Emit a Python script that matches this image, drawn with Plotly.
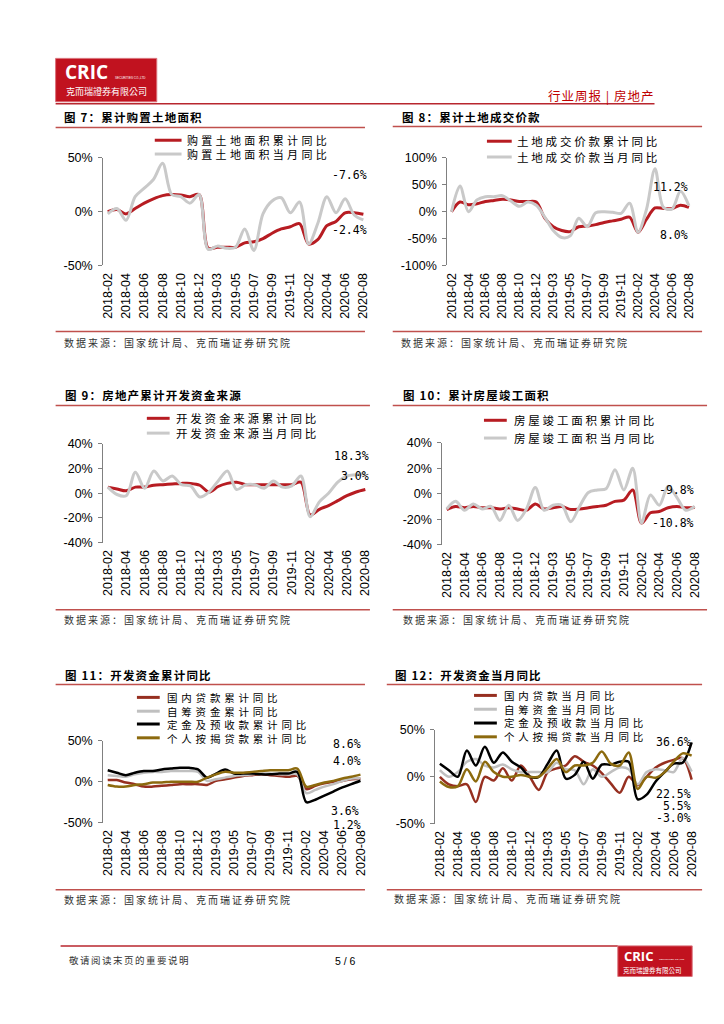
import plotly.graph_objects as go

# page is 724x1024; browser body keeps its default 8px margin, so the figure is 16px smaller
PAGE_W, PAGE_H = 724, 1024
OFF = 8
W, H = PAGE_W - 2 * OFF, PAGE_H - 2 * OFF

# ---------------- data ----------------
months = ['2018-02', '2018-03', '2018-04', '2018-05', '2018-06', '2018-07', '2018-08', '2018-09',
          '2018-10', '2018-11', '2018-12',
          '2019-02', '2019-03', '2019-04', '2019-05', '2019-06', '2019-07', '2019-08', '2019-09',
          '2019-10', '2019-11', '2019-12',
          '2020-02', '2020-03', '2020-04', '2020-05', '2020-06', '2020-07', '2020-08']
tick_labels = ['2018-02', '2018-04', '2018-06', '2018-08', '2018-10', '2018-12', '2019-03', '2019-05',
               '2019-07', '2019-09', '2019-11', '2020-02', '2020-04', '2020-06', '2020-08']

# 图7 累计购置土地面积
land_area_cum = [0, 2, -2, 3, 8, 12, 15, 16, 15.5, 14, 16, -34, -33, -33, -33, -29, -28, -25, -20, -16,
                 -14, -11, -30, -26, -13, -9, -1, -1, -2.4]
land_area_mon = [-2, 3, -8, 14, 22, 30, 45, 16, 14, 8, 16, -35, -32, -34, -33, -16, -36, -2, 10, 13,
                 -1, 9, -30, -11, 14, -1, 12, -3, -7.6]
land_area_labels = ['-7.6%', '-2.4%']

# 图8 累计土地成交价款
land_price_cum = [0, 18, 13, 15, 19, 21, 23, 22, 19, 19, 18, -12, -28, -35, -37, -28, -27, -24, -20, -17,
                  -14, -10, -38, -14, 7, 6, 6, 12, 8.0]
land_price_mon = [0, 48, 0, 22, 28, 28, 30, 20, 10, 18, 12, -10, -35, -48, -45, -12, -28, -2, 0, -1,
                  -3, 16, -38, 5, 80, 8, 5, 38, 11.2]
land_price_labels = ['11.2%', '8.0%']

# 图9 房地产累计开发资金来源
fund_cum = [5, 3.5, 2, 5, 5, 6.5, 7, 7.5, 8, 8, 6.5, 1, 5.5, 8, 9, 7, 7, 7, 7, 7, 7, 9, -17.5, -13,
            -10, -6, -2, 1, 3.0]
fund_mon = [5, -1, -2, 17, 4, 18, 10, 14, 7, 6, -3, 1, 10, 18, 3, 7, 7, 4, 10, 5, 6, 14, -19, -7,
            0, 9, 14, 15, 16]
fund_labels = ['18.3%', '3.0%']

# 图10 累计房屋竣工面积
completed_cum = [-12.5, -10, -11, -10, -11, -11, -12, -11, -12, -13, -8, -12, -11, -10, -12.4, -12, -11,
                 -10, -9, -6, -5, 3, -23, -15, -14, -11, -10, -11, -10.8]
completed_mon = [-12, -6, -13, -8, -12, -10, -21, -9, -21, -12, 5, -13, -9, -9, -22, -10, 1, 3, 4, 19,
                 3, 20, -23, -1, -9, 6, -3, -13, -9.8]
completed_labels = ['-9.8%', '-10.8%']

# 图11 开发资金累计同比
dom_loan_cum = [2, 2, -1, -3, -6, -6, -5, -4, -3, -3, -3, -4, 1, 3, 5, 7, 8, 9, 8, 7, 6, 7, -9, -5,
                -2, 0, 1, 3, 3.6]
self_fund_cum = [8, 7, 6, 9, 11, 12, 12, 13, 13, 13, 12, 1, 3, 5, 7, 8, 9, 10, 10, 9, 9, 9, -14, -10,
                 -6, -3, 1, 4, 4.0]
deposit_cum = [14, 11, 8, 11, 13, 13, 15, 16, 17, 17, 15, 5, 10, 15, 10, 10, 10, 9, 9, 10, 10, 12, -25,
               -22, -17, -12, -7, -3, 1.2]
mortgage_cum = [-4, -6, -6, -4, -3, -1, -1, 0, 0, 0, 0, 5, 9, 12, 11, 11, 12, 13, 14, 14, 14, 16, -6,
                -4, -1, 1, 4, 6, 8.6]
cum_labels = ['8.6%', '4.0%', '3.6%', '1.2%']

# 图12 开发资金当月同比
dom_loan_mon = [0, -8, -10, -8, -27, 0, -4, 9, -4, 12, 0, -14, 5, 9, 12, 22, 16, 12, 4, -7, -17, 0,
                -9, 0, 10, 15, 18, 20, -3.0]
self_fund_mon = [7, 0, 5, 16, 19, 12, 10, 13, 8, 5, 5, 5, 5, 15, 8, 7, -8, 8, 0, 5, 10, 8, -8, 5, 8,
                 7, 5, 20, 5.5]
deposit_mon = [14, 7, 0, 28, 12, 32, 15, 26, 16, 10, 0, 0, 14, 28, -2, 2, 16, -2, 13, 13, 16, 16, -24,
               -19, -5, 5, 14, 15, 36.6]
mortgage_mon = [-5, -11, -10, 8, -5, 16, 5, 0, 0, 2, 0, 0, 9, 19, 5, 12, 12, 15, 27, 14, 12, 26, -13,
                0, -1, 5, 16, 25, 22.5]
mon_labels = ['36.6%', '22.5%', '5.5%', '-3.0%']

source_text = '数据来源：国家统计局、克而瑞证券研究院'

# ---------------- styles ----------------
RED = '#B71C22'
LGRAY = '#C9C9C9'
BROWN = '#962F20'
GRAY2 = '#C0C0C0'
BLACK = '#000000'
OLIVE = '#8C6A0E'
AX = '#808080'
RULE = '#C0504D'
CJK = 'Noto Sans CJK SC'
LAT = 'Liberation Sans'
MONO = 'DejaVu Sans Mono'


def X(p):
    return (p - OFF) / W


def Y(p):
    return 1 - (p - OFF) / H


def pct(v):
    return f'{v}%'


panels = [
    dict(title='图 7：累计购置土地面积', tx=60, ty=111, rule=(53, 365, 122), bottom=(53, 365, 329), src=(60, 340),
         plot=(101, 368, 153, 262), yr=[-50, 50], yt=[-50, 0, 50],
         series=[('购置土地面积累计同比', land_area_cum, RED, 3), ('购置土地面积当月同比', land_area_mon, LGRAY, 3)],
         leg=(153, 180, 184, [135, 149], 11, 3.3),
         labels=list(zip(land_area_labels, [368, 368], [170, 226]))),
    dict(title='图 8：累计土地成交价款', tx=401, ty=111, rule=(393, 705, 121), bottom=(393, 705, 329), src=(400, 340),
         plot=(448, 696, 153, 262), yr=[-100, 100], yt=[-100, -50, 0, 50, 100],
         series=[('土地成交价款累计同比', land_price_cum, RED, 3), ('土地成交价款当月同比', land_price_mon, LGRAY, 3)],
         leg=(488, 513, 517, [136, 152], 11.5, 2.8),
         labels=list(zip(land_price_labels, [692, 692], [182, 231]))),
    dict(title='图 9：房地产累计开发资金来源', tx=61, ty=393, rule=(53, 370, 404), bottom=(53, 370, 611), src=(60, 621),
         plot=(101, 370, 443, 543), yr=[-40, 40], yt=[-40, -20, 0, 20, 40],
         series=[('开发资金来源累计同比', fund_cum, RED, 3), ('开发资金来源当月同比', fund_mon, LGRAY, 3)],
         leg=(145, 168, 173, [417, 432], 11.5, 2.8),
         labels=list(zip(fund_labels, [370, 370], [455, 475]))),
    dict(title='图 10：累计房屋竣工面积', tx=402, ty=393, rule=(393, 710, 404), bottom=(393, 710, 611), src=(402, 621),
         plot=(443, 702, 442, 545), yr=[-40, 40], yt=[-40, -20, 0, 20, 40],
         series=[('房屋竣工面积累计同比', completed_cum, RED, 3), ('房屋竣工面积当月同比', completed_mon, LGRAY, 3)],
         leg=(485, 508, 514, [419, 437], 11.5, 2.8),
         labels=list(zip(completed_labels, [698, 698], [490, 523]))),
    dict(title='图 11：开发资金累计同比', tx=61, ty=677, rule=(53, 365, 687), bottom=(53, 365, 895), src=(60, 905),
         plot=(101, 365, 744, 827), yr=[-50, 50], yt=[-50, 0, 50],
         series=[('国内贷款累计同比', dom_loan_cum, BROWN, 2.5), ('自筹资金累计同比', self_fund_cum, GRAY2, 2.5),
                 ('定金及预收款累计同比', deposit_cum, BLACK, 2.5), ('个人按揭贷款累计同比', mortgage_cum, OLIVE, 2.5)],
         leg=(135, 158, 164, [700, 714, 727, 741], 10.5, 3.8),
         labels=list(zip(cum_labels, [362, 362, 360, 362], [747, 764, 815, 829]))),
    dict(title='图 12：开发资金当月同比', tx=394, ty=677, rule=(387, 705, 687), bottom=(387, 705, 895), src=(393, 904),
         plot=(436, 699, 733, 828), yr=[-50, 50], yt=[-50, 0, 50],
         series=[('国内贷款当月同比', dom_loan_mon, BROWN, 2.5), ('自筹资金当月同比', self_fund_mon, GRAY2, 2.5),
                 ('定金及预收款当月同比', deposit_mon, BLACK, 2.5), ('个人按揭贷款当月同比', mortgage_mon, OLIVE, 2.5)],
         leg=(475, 498, 504, [698, 712, 726, 740], 10.5, 3.8),
         labels=list(zip(mon_labels, [695, 695, 695, 695], [745, 798, 810, 822]))),
]

fig = go.Figure()
layout = {}
shapes = []
annotations = []


def spaced(text, ls):
    return f'<span style="letter-spacing:{ls}px">{text}</span>' if ls else text


def ann(text, x, y, size, family=CJK, color='#000000', xanchor='left', yanchor='middle', bold=False,
        ls=None, align='left'):
    t = spaced(text, ls)
    if bold:
        t = f'<b>{t}</b>'
    annotations.append(dict(text=t, x=X(x), y=Y(y), xref='paper', yref='paper', xanchor=xanchor,
                            yanchor=yanchor, showarrow=False, borderpad=0, align=align,
                            font=dict(family=family, size=size, color=color)))


def hline(x0, x1, y, color=RULE, width=1.5):
    shapes.append(dict(type='line', xref='paper', yref='paper', x0=X(x0), x1=X(x1), y0=Y(y), y1=Y(y),
                       line=dict(color=color, width=width)))


def axname(n):
    return ('x' if n == 1 else f'x{n}'), ('xaxis' if n == 1 else f'xaxis{n}')


def ayname(n):
    return ('y' if n == 1 else f'y{n}'), ('yaxis' if n == 1 else f'yaxis{n}')


for k, P in enumerate(panels):
    xt, xkey = axname(2 * k + 1)
    xt2, xkey2 = axname(2 * k + 2)
    yt, ykey = ayname(k + 1)
    x0, x1, y0, y1 = P['plot']
    for name, vals, color, width in P['series']:
        fig.add_trace(go.Scatter(x=months, y=vals, name=name, mode='lines', xaxis=xt, yaxis=yt,
                                 showlegend=False,
                                 line=dict(color=color, width=width, shape='spline', smoothing=0.9)))
    layout[xkey] = dict(domain=[X(x0), X(x1)], anchor=yt, type='category', range=[-0.5, 28.5],
                        tickmode='array', tickvals=tick_labels, ticktext=tick_labels, tickangle=-90,
                        showline=False, ticks='', showgrid=False, zeroline=False, ticklabelstandoff=4,
                        tickfont=dict(family=LAT, size=12.5, color='#000000'), fixedrange=True)
    layout[xkey2] = dict(domain=[X(x0), X(x1)], anchor='free', position=Y((y0 + y1) / 2),
                         overlaying=xt, side='top', type='linear', range=[-0.5, 28.5],
                         tick0=0.5, dtick=1, ticks='outside', ticklen=4, tickcolor=AX, tickwidth=1,
                         showline=True, linecolor=AX, linewidth=1, showticklabels=False,
                         showgrid=False, zeroline=False, fixedrange=True)
    layout[ykey] = dict(domain=[Y(y1), Y(y0)], anchor=xt, range=P['yr'], tickmode='array',
                        tickvals=P['yt'], ticktext=[pct(v) for v in P['yt']], showline=True,
                        linecolor=AX, linewidth=1, ticks='outside', ticklen=4, tickcolor=AX,
                        showgrid=False, zeroline=False, ticklabelstandoff=3,
                        tickfont=dict(family=LAT, size=12.5, color='#000000'), fixedrange=True)

    # title, rules, source
    ann(P['title'], P['tx'], P['ty'], 11.5, bold=True, ls=1.2)
    r0, r1, ry = P['rule']
    hline(r0, r1, ry)
    b0, b1, by = P['bottom']
    hline(b0, b1, by)
    ann(source_text, P['src'][0], P['src'][1], 10, color='#333333', ls=2)

    # legend: line samples + texts
    lx0, lx1, ltx, rows, lsize, lls = P['leg']
    for (name, vals, color, width), ry_ in zip(P['series'], rows):
        shapes.append(dict(type='line', xref='paper', yref='paper', x0=X(lx0), x1=X(lx1), y0=Y(ry_),
                           y1=Y(ry_), line=dict(color=color, width=3)))
    gap = rows[1] - rows[0]
    if gap < 16:
        text = '<br>'.join(spaced(s[0], lls) for s in P['series'])
        annotations.append(dict(text=text, x=X(ltx), y=Y(sum(rows) / len(rows)), xref='paper',
                                yref='paper', xanchor='left', yanchor='middle', showarrow=False,
                                borderpad=0, align='left',
                                font=dict(family=CJK, size=lsize, color='#000000')))
    else:
        for s, ry_ in zip(P['series'], rows):
            ann(s[0], ltx, ry_, lsize, ls=lls)

    # value labels
    for txt, lx, ly in P['labels']:
        ann(txt, lx, ly, 11.5, family=MONO, xanchor='right')

# header
shapes.append(dict(type='rect', xref='paper', yref='paper', x0=X(53), x1=X(155), y0=Y(96), y1=Y(52),
                   fillcolor='#C1121F', line=dict(color='#D9707A', width=1)))
ann('CRIC', 61, 66, 19, family='Open Sans', color='#FFFFFF', bold=True)
ann('SECURITIES CO.,LTD', 112, 72, 3, family=LAT, color='#FFFFFF')
ann('克而瑞證券有限公司', 62, 86, 9, family='Noto Sans CJK TC', color='#FFFFFF')
ann('行业周报 | 房地产', 657, 90, 12.5, color='#C00000', xanchor='right', ls=1)
hline(53, 657, 98, color='#B8262E', width=1.5)

# footer
hline(58, 620, 952, color='#B8262E', width=1.5)
ann('敬请阅读末页的重要说明', 65, 966, 9.5, color='#333333', ls=1.5)
ann('5 / 6', 345, 967, 10.5, family=LAT, color='#000000', xanchor='center')
shapes.append(dict(type='rect', xref='paper', yref='paper', x0=X(620), x1=X(695), y0=Y(983), y1=Y(952),
                   fillcolor='#C1121F', line=dict(color='#D9707A', width=1)))
ann('CRIC', 625, 962, 13, family='Open Sans', color='#FFFFFF', bold=True)
ann('SECURITIES CO.,LTD', 661, 966, 2.5, family=LAT, color='#FFFFFF')
ann('克而瑞證券有限公司', 624, 976, 6.5, family='Noto Sans CJK TC', color='#FFFFFF')

fig.update_layout(width=W, height=H, margin=dict(l=0, r=0, t=0, b=0, pad=0), autosize=False,
                  paper_bgcolor='#FFFFFF', plot_bgcolor='rgba(0,0,0,0)', showlegend=False,
                  font=dict(family=LAT, size=12, color='#000000'),
                  shapes=shapes, annotations=annotations, **layout)

fig.write_html('out.html', config={'displayModeBar': False})
